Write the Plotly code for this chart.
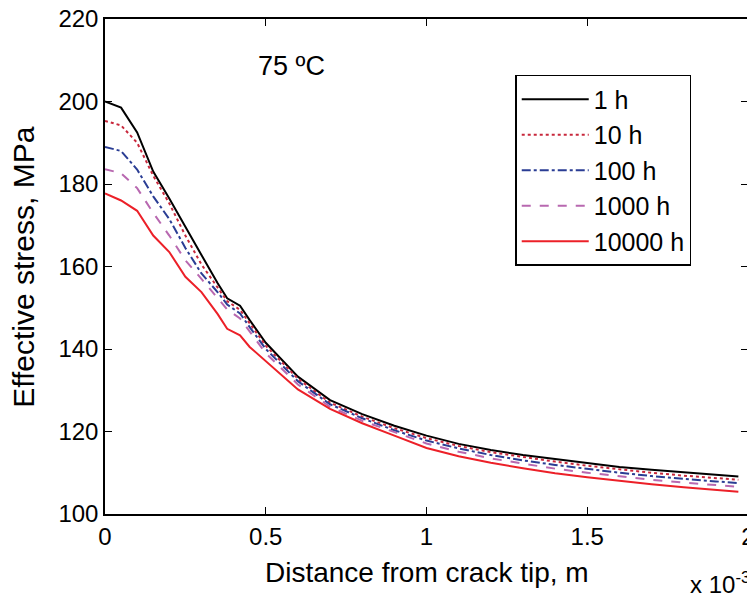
import plotly.graph_objects as go

x = [0.0, 0.05, 0.1, 0.15, 0.2, 0.25, 0.3, 0.35, 0.38, 0.42, 0.45, 0.5, 0.6, 0.7, 0.8, 0.9,
     1.0, 1.1, 1.2, 1.3, 1.4, 1.5, 1.6, 1.7, 1.8, 1.9, 1.97]

s_1h = [200.0, 198.5, 192.5, 183.0, 176.5, 169.5, 162.8, 156.0, 152.3, 150.5, 147.0, 141.5, 133.3,
        127.6, 124.2, 121.4, 119.0, 117.0, 115.5, 114.3, 113.3, 112.3, 111.4, 110.7, 110.1, 109.5, 109.1]
s_10h = [195.3, 194.2, 190.0, 182.0, 175.3, 167.5, 160.5, 154.8, 151.6, 149.5, 146.2, 140.8, 132.8,
         127.0, 123.6, 120.8, 118.4, 116.5, 115.0, 113.8, 112.7, 111.7, 110.8, 110.0, 109.3, 108.7, 108.3]
s_100h = [189.0, 188.0, 183.5, 177.0, 171.5, 164.5, 158.3, 153.8, 150.8, 148.6, 145.3, 140.0, 132.2,
          126.6, 123.2, 120.3, 117.8, 115.9, 114.3, 113.0, 111.9, 110.9, 110.0, 109.2, 108.5, 107.9, 107.5]
s_1000h = [183.6, 182.6, 179.0, 173.0, 167.5, 161.5, 157.0, 152.5, 149.6, 147.4, 144.2, 139.0, 131.4,
           126.0, 122.6, 119.8, 117.1, 115.1, 113.5, 112.2, 111.0, 110.0, 109.1, 108.3, 107.6, 107.0, 106.6]
s_10000h = [177.7, 176.0, 173.5, 167.5, 163.5, 157.5, 153.8, 148.5, 144.9, 143.3, 140.5, 137.0, 130.2,
            125.5, 122.0, 119.0, 116.0, 114.0, 112.4, 111.1, 109.9, 108.9, 108.0, 107.2, 106.5, 105.9, 105.4]

names = ["1 h", "10 h", "100 h", "1000 h", "10000 h"]
series = [s_1h, s_10h, s_100h, s_1000h, s_10000h]
colors = ["#000000", "#c8283c", "#2a3d94", "#b868b0", "#ec2028"]
dashes = ["solid", "dot", "dashdot", "dash", "solid"]

x_ticks = [0, 0.5, 1, 1.5, 2]
x_tick_labels = ["0", "0.5", "1", "1.5", "2"]
y_ticks = [100, 120, 140, 160, 180, 200, 220]

FONT = "Liberation Sans, Arial, sans-serif"

fig = go.Figure()
for n, s, c, d in zip(names, series, colors, dashes):
    fig.add_trace(go.Scatter(x=x, y=s, mode="lines", name=n, legendgroup=n,
                             line=dict(color=c, dash=d, width=2)))

axis_common = dict(showline=True, linecolor="black", linewidth=1.5, mirror="ticks",
                   ticks="inside", ticklen=7, tickcolor="black", showgrid=False, zeroline=False,
                   automargin=False, ticklabeloverflow="allow",
                   tickfont=dict(family=FONT, size=24, color="black"))

fig.update_layout(
    width=747, height=589,
    margin=dict(l=97, r=7, t=11, b=83),
    paper_bgcolor="white", plot_bgcolor="white",
    font=dict(family=FONT, color="black"),
    xaxis=dict(range=[0, 2], tickvals=x_ticks, ticktext=x_tick_labels, **axis_common),
    yaxis=dict(range=[100, 220], tickvals=y_ticks, **axis_common),
    legend=dict(x=0.638, y=0.887, xanchor="left", yanchor="top",
                bordercolor="black", borderwidth=1.5, bgcolor="white",
                font=dict(family=FONT, size=25, color="black"),
                tracegroupgap=0, itemwidth=67),
    showlegend=True,
)

fig.add_annotation(x=0.58, y=208.5, xref="x", yref="y", text="75 ºC", showarrow=False,
                   font=dict(family=FONT, size=27, color="black"))
fig.add_annotation(x=0.5, y=-0.118, xref="paper", yref="paper", text="Distance from crack tip, m",
                   showarrow=False, xanchor="center", yanchor="middle",
                   font=dict(family=FONT, size=28, color="black"))
fig.add_annotation(x=-0.127, y=0.5, xref="paper", yref="paper", text="Effective stress, MPa",
                   showarrow=False, xanchor="center", yanchor="middle", textangle=-90,
                   font=dict(family=FONT, size=30, color="black"))
fig.add_annotation(x=1.006, y=-0.139, xref="paper", yref="paper", text="x 10<sup>-3</sup>",
                   showarrow=False, xanchor="right", yanchor="middle",
                   font=dict(family=FONT, size=24, color="black"))

fig.write_html("out.html")
